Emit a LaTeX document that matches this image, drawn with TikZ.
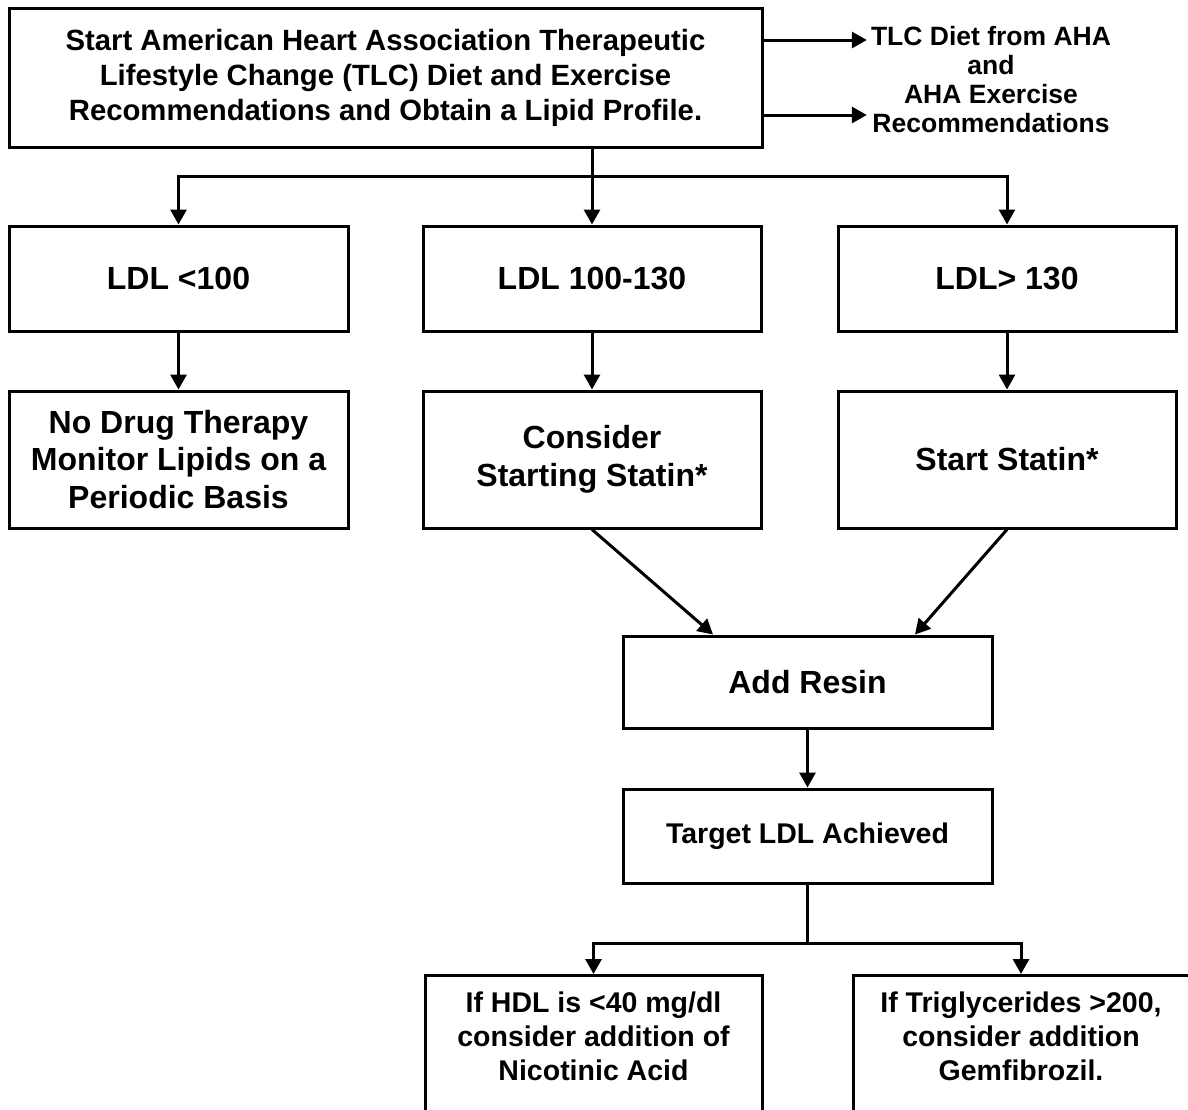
\documentclass[tikz,border=0pt]{standalone}
\usepackage{fontspec}
\setmainfont{Liberation Sans}
\usetikzlibrary{arrows.meta}

\tikzset{
  box/.style={draw, line width=3pt, align=center, inner sep=0pt},
  big/.style={font=\bfseries\fontsize{32}{37.5}\selectfont},
  mid/.style={font=\bfseries\fontsize{28.5}{34}\selectfont},
  arr/.style={line width=3pt, -{Triangle[length=15pt,width=16pt]}},
}

\begin{document}
\begin{tikzpicture}[x=1pt,y=-1pt]
\useasboundingbox (0,0) rectangle (1188,1109);
\fill[white] (0,0) rectangle (1188,1109);
\clip (0,0) rectangle (1188,1109);
% start box and the side note
\node[box,font=\bfseries\fontsize{29.3}{35}\selectfont,minimum width=753pt,minimum height=139pt] (top) at (385.5,77.5) {Start American Heart Association Therapeutic\\Lifestyle Change (TLC) Diet and Exercise\\Recommendations and Obtain a Lipid Profile.};
\node[font=\bfseries\fontsize{26.5}{29}\selectfont, align=center, inner xsep=4pt] (aha) at (991,80) {TLC Diet from AHA\\and\\AHA Exercise\\Recommendations};
\draw[arr] ([yshift=37.5pt]top.east) -- ([yshift=37.5pt]top.east -| aha.west);
\draw[arr] ([yshift=-37.5pt]top.east) -- ([yshift=-37.5pt]top.east -| aha.west);
% LDL levels
\node[box,big,minimum width=339pt,minimum height=105pt] (ldla) at (178.5,278.5) {LDL <100};
\node[box,big,minimum width=338pt,minimum height=105pt] (ldlb) at (592,278.5) {LDL 100-130};
\node[box,big,minimum width=338pt,minimum height=105pt] (ldlc) at (1007,278.5) {LDL> 130};
\node[box,big,minimum width=339pt,minimum height=137pt] (nodrug) at (178.5,459.5) {No Drug Therapy\\Monitor Lipids on a\\Periodic Basis};
\node[box,big,minimum width=338pt,minimum height=137pt] (consider) at (592,459.5) {Consider\\Starting Statin*};
\node[box,big,minimum width=338pt,minimum height=137pt] (statin) at (1007,459.5) {Start Statin*};
\coordinate (fork1) at (ldlb.north |- 0,176);
\draw[arr] (ldlb.north |- top.south) -- (ldlb.north);
\draw[arr] (fork1) -| (ldla);
\draw[arr] (fork1) -| (ldlc);
\draw[arr] (ldla) -- (nodrug);
\draw[arr] (ldlb) -- (consider);
\draw[arr] (ldlc) -- (statin);
% resin and target
\node[box,big,minimum width=369pt,minimum height=92pt] (resin) at (807.5,682) {Add Resin};
\node[box,mid,minimum width=369pt,minimum height=94pt] (target) at (807.5,836) {Target LDL Achieved};
\draw[arr] (consider.south) -- ([xshift=-94.5pt]resin.north);
\draw[arr] (statin.south) -- ([xshift=107.5pt]resin.north);
\draw[arr] (resin) -- (target);
% last step
\node[box,anchor=north,minimum width=337pt,minimum height=170pt] (hdl) at (593.5,974) {};
\node[box,anchor=north,minimum width=336pt,minimum height=170pt] (trig) at (1021,974) {};
\node[mid,align=center] (hdltxt) at (593.5,1036) {If HDL is <40 mg/dl\\consider addition of\\Nicotinic Acid};
\node[mid,align=center] (trigtxt) at (1021,1036) {If Triglycerides >200,\\consider addition\\Gemfibrozil.};
\coordinate (fork2) at (target.south |- 0,943);
\draw[line width=3pt] (target) -- (fork2);
\draw[arr] (fork2) -| (hdl);
\draw[arr] (fork2) -| (trig);
\end{tikzpicture}
\end{document}
